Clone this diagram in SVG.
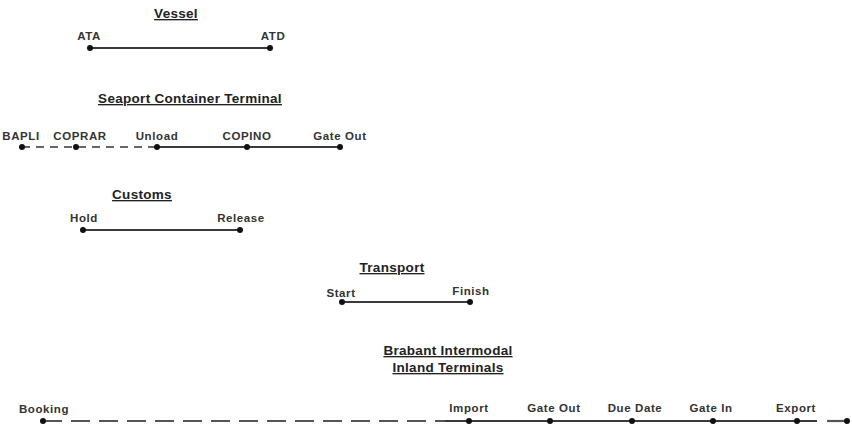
<svg xmlns="http://www.w3.org/2000/svg" width="852" height="426" viewBox="0 0 852 426">
<style>
.t{font-family:"Liberation Sans",Arial,sans-serif;font-weight:bold;font-size:13.5px;letter-spacing:0.3px;fill:#222;text-anchor:middle;text-decoration:underline}
.l{font-family:"Liberation Sans",Arial,sans-serif;font-weight:bold;font-size:11.5px;letter-spacing:0.6px;fill:#333;text-anchor:middle}
.d{fill:#111}
.s{stroke:#3a3a3a;stroke-width:2;fill:none}
.ds{stroke:#666;stroke-width:2;fill:none;stroke-dasharray:8 6}
.dl{stroke:#555;stroke-width:2.2;fill:none;stroke-dasharray:19 9}
</style>
<rect width="852" height="426" fill="#fff"/>
<g id="titles">
<text class="t" x="176" y="18">Vessel</text>
<text class="t" x="190" y="103">Seaport Container Terminal</text>
<text class="t" x="142" y="199">Customs</text>
<text class="t" x="392" y="272">Transport</text>
<text class="t" x="448" y="355">Brabant Intermodal</text>
<text class="t" x="448" y="372">Inland Terminals</text>
</g>
<g id="connectors">
<line class="s" x1="90" y1="48" x2="270" y2="48"/>
<line class="ds" x1="22" y1="147" x2="157" y2="147"/>
<line class="s" x1="157" y1="147" x2="340" y2="147"/>
<line class="s" x1="83" y1="230" x2="240" y2="230"/>
<line class="s" x1="342" y1="302" x2="470" y2="302"/>
<line class="dl" x1="43" y1="421" x2="445" y2="421"/>
<line class="s" x1="445" y1="421" x2="817" y2="421"/>
<line class="dl" x1="827" y1="421" x2="847" y2="421"/>
</g>
<g id="ata"><circle class="d" cx="90" cy="48" r="3"/><text class="l" x="89" y="40">ATA</text></g>
<g id="atd"><circle class="d" cx="270" cy="48" r="3"/><text class="l" x="273" y="40">ATD</text></g>
<g id="bapli"><circle class="d" cx="22" cy="147" r="3"/><text class="l" x="21" y="140">BAPLI</text></g>
<g id="coprar"><circle class="d" cx="76" cy="147" r="3"/><text class="l" x="80" y="140">COPRAR</text></g>
<g id="unload"><circle class="d" cx="157" cy="147" r="3"/><text class="l" x="157" y="140">Unload</text></g>
<g id="copino"><circle class="d" cx="247" cy="147" r="3"/><text class="l" x="247" y="140">COPINO</text></g>
<g id="gateout1"><circle class="d" cx="340" cy="147" r="3"/><text class="l" x="340" y="140">Gate Out</text></g>
<g id="hold"><circle class="d" cx="83" cy="230" r="3"/><text class="l" x="84" y="222">Hold</text></g>
<g id="release"><circle class="d" cx="240" cy="230" r="3"/><text class="l" x="241" y="222">Release</text></g>
<g id="start"><circle class="d" cx="342" cy="302" r="3"/><text class="l" x="341" y="297">Start</text></g>
<g id="finish"><circle class="d" cx="470" cy="302" r="3"/><text class="l" x="471" y="295">Finish</text></g>
<g id="booking"><circle class="d" cx="43" cy="421" r="3"/><text class="l" x="44" y="413">Booking</text></g>
<g id="import"><circle class="d" cx="469" cy="421" r="3"/><text class="l" x="469" y="412">Import</text></g>
<g id="gateout2"><circle class="d" cx="550" cy="421" r="3"/><text class="l" x="554" y="412">Gate Out</text></g>
<g id="duedate"><circle class="d" cx="632" cy="421" r="3"/><text class="l" x="635" y="412">Due Date</text></g>
<g id="gatein"><circle class="d" cx="713" cy="421" r="3"/><text class="l" x="711" y="412">Gate In</text></g>
<g id="export"><circle class="d" cx="797" cy="421" r="3"/><text class="l" x="796" y="412">Export</text></g>
<g id="end"><circle class="d" cx="847" cy="421" r="3"/></g>
</svg>
